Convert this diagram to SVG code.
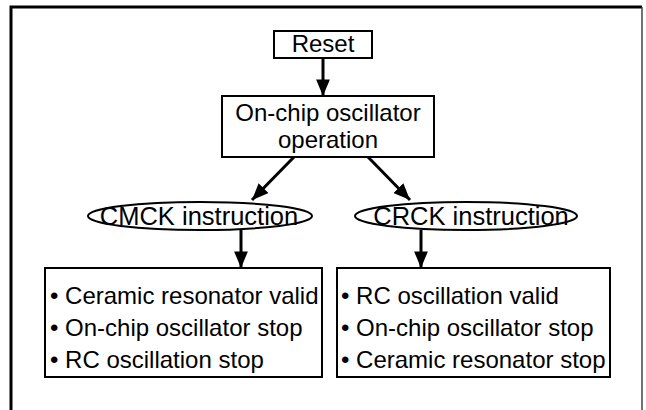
<svg xmlns="http://www.w3.org/2000/svg" width="646" height="410" viewBox="0 0 646 410">
<style>
  .box{fill:#fff;stroke:#000;stroke-width:2}
  .t{font-family:"Liberation Sans",Arial,sans-serif;font-size:24px;fill:#000}
  .e{font-size:25.5px}
  .c{text-anchor:middle}
  .conn{stroke:#000;stroke-width:3;fill:none;marker-end:url(#ah)}
</style>
<defs>
  <marker id="ah" viewBox="0 0 12 10" refX="12" refY="5" markerWidth="5.6" markerHeight="4.6" markerUnits="strokeWidth" orient="auto">
    <path d="M0,0 L12,5 L0,10 z" fill="#000"/>
  </marker>
</defs>
<rect width="646" height="410" fill="#fff"/>
<g id="frame">
  <path d="M11,410 L11,7 L642,7" fill="none" stroke="#000" stroke-width="3"/>
  <path d="M642,7 L642,410" fill="none" stroke="#444" stroke-width="1.5"/>
</g>
<g id="connectors">
  <line class="conn" x1="323" y1="58" x2="323" y2="96"/>
  <line class="conn" x1="294" y1="157" x2="252" y2="200"/>
  <line class="conn" x1="368" y1="157" x2="410" y2="200"/>
  <line class="conn" x1="241" y1="230" x2="241" y2="268"/>
  <line class="conn" x1="421" y1="230" x2="421" y2="268"/>
</g>
<g id="reset">
  <rect class="box" x="274" y="31" width="98" height="27"/>
  <text class="t c" x="323" y="52">Reset</text>
</g>
<g id="onchip">
  <rect class="box" x="222" y="96" width="212" height="61"/>
  <text class="t c" x="328" y="121">On-chip oscillator</text>
  <text class="t c" x="328" y="148">operation</text>
</g>
<g id="cmck">
  <ellipse cx="200" cy="216" rx="112" ry="14" fill="#fff" stroke="#000" stroke-width="2"/>
  <text class="t e c" x="199" y="225">CMCK instruction</text>
</g>
<g id="crck">
  <ellipse cx="466" cy="216" rx="111" ry="14" fill="#fff" stroke="#000" stroke-width="2"/>
  <text class="t e c" x="471" y="225">CRCK instruction</text>
</g>
<g id="left-box">
  <rect class="box" x="45" y="268" width="277" height="109"/>
  <text class="t" x="50" y="304">• Ceramic resonator valid</text>
  <text class="t" x="50" y="336">• On-chip oscillator stop</text>
  <text class="t" x="50" y="368">• RC oscillation stop</text>
</g>
<g id="right-box">
  <rect class="box" x="337" y="268" width="273" height="109"/>
  <text class="t" x="341" y="304">• RC oscillation valid</text>
  <text class="t" x="341" y="336">• On-chip oscillator stop</text>
  <text class="t" x="341" y="368">• Ceramic resonator stop</text>
</g>
</svg>
